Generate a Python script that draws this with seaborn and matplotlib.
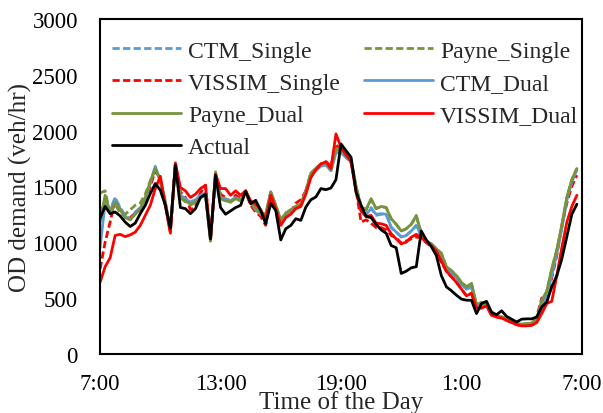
import numpy as np
import pandas as pd
import seaborn as sns
import matplotlib
matplotlib.use("Agg")
import matplotlib.pyplot as plt

# 15-min demand, 7:00 -> 6:45 next day (hours after 7:00)
hours = [i * 0.25 for i in range(96)]

actual = [1215, 1320, 1255, 1270, 1235, 1180, 1140, 1170, 1255, 1330, 1435, 1525,
          1465, 1330, 1125, 1690, 1310, 1300, 1255, 1300, 1400, 1430, 1030, 1600,
          1310, 1250, 1280, 1310, 1330, 1455, 1345, 1375, 1285, 1165, 1345, 1285,
          1020, 1120, 1150, 1210, 1195, 1315, 1380, 1405, 1480, 1470, 1485, 1560,
          1880, 1820, 1760, 1450, 1330, 1230, 1220, 1160, 1110, 1080, 970, 950,
          720, 740, 770, 780, 1100, 1020, 960, 880, 700, 600, 565, 525,
          490, 480, 480, 360, 450, 470, 370, 350, 385, 335, 310, 285,
          310, 313, 313, 330, 420, 463, 600, 700, 850, 1050, 1250, 1340]

ctm_single = [1250, 1380, 1290, 1400, 1310, 1240, 1210, 1270, 1310, 1400, 1530, 1670,
              1550, 1350, 1110, 1700, 1420, 1380, 1350, 1370, 1410, 1440, 1020, 1600,
              1400, 1380, 1370, 1400, 1370, 1450, 1350, 1290, 1250, 1230, 1440, 1320,
              1190, 1250, 1280, 1320, 1340, 1460, 1610, 1650, 1690, 1700, 1640, 1810,
              1810, 1760, 1720, 1490, 1270, 1250, 1310, 1240, 1250, 1250, 1130, 1090,
              1050, 1060, 1100, 1150, 1050, 1000, 970, 920, 880, 760, 720, 680,
              620, 580, 600, 420, 440, 440, 365, 340, 325, 315, 295, 270,
              260, 262, 268, 300, 420, 530, 720, 920, 1130, 1390, 1550, 1650]

payne_single = [1440, 1460, 1250, 1340, 1260, 1250, 1290, 1330, 1350, 1430, 1550, 1650,
                1560, 1360, 1100, 1690, 1400, 1360, 1330, 1360, 1400, 1420, 1010, 1620,
                1390, 1370, 1360, 1390, 1370, 1460, 1360, 1300, 1260, 1250, 1440, 1330,
                1200, 1260, 1290, 1320, 1340, 1460, 1620, 1660, 1700, 1710, 1650, 1830,
                1830, 1780, 1740, 1500, 1320, 1290, 1380, 1300, 1320, 1310, 1210, 1160,
                1100, 1120, 1160, 1230, 1080, 1010, 985, 940, 900, 780, 745, 700,
                640, 600, 630, 440, 460, 445, 375, 345, 330, 320, 300, 270,
                265, 270, 275, 310, 470, 560, 760, 930, 1150, 1400, 1560, 1660]

vissim_single = [760, 1000, 1180, 1380, 1290, 1230, 1220, 1260, 1290, 1380, 1500, 1640,
                 1560, 1330, 1090, 1700, 1450, 1400, 1290, 1320, 1440, 1510, 1030, 1600,
                 1430, 1400, 1360, 1420, 1390, 1450, 1330, 1270, 1230, 1150, 1400, 1290,
                 1170, 1240, 1270, 1350, 1380, 1460, 1580, 1660, 1700, 1720, 1680, 1880,
                 1810, 1770, 1720, 1470, 1180, 1200, 1170, 1130, 1130, 1110, 1060, 1040,
                 990, 1010, 1030, 1045, 1040, 995, 960, 910, 820, 740, 690, 640,
                 580, 520, 545, 410, 410, 430, 345, 330, 320, 300, 280, 262,
                 252, 252, 260, 330, 500, 470, 680, 880, 1150, 1350, 1500, 1600]

ctm_dual = [950, 1350, 1280, 1390, 1300, 1230, 1200, 1260, 1300, 1390, 1530, 1680,
            1540, 1340, 1110, 1700, 1420, 1390, 1360, 1380, 1420, 1440, 1020, 1610,
            1400, 1390, 1370, 1400, 1380, 1450, 1350, 1290, 1250, 1240, 1450, 1320,
            1190, 1250, 1280, 1310, 1330, 1450, 1600, 1640, 1680, 1690, 1640, 1800,
            1800, 1760, 1720, 1490, 1280, 1250, 1300, 1250, 1255, 1250, 1135, 1090,
            1045, 1060, 1100, 1150, 1060, 1000, 975, 925, 880, 760, 720, 680,
            620, 580, 600, 420, 440, 440, 370, 340, 325, 315, 295, 270,
            260, 262, 268, 300, 410, 520, 700, 900, 1120, 1380, 1540, 1650]

payne_dual = [1180, 1420, 1260, 1360, 1290, 1220, 1200, 1250, 1300, 1400, 1540, 1660,
              1560, 1360, 1100, 1690, 1400, 1370, 1340, 1360, 1400, 1420, 1010, 1630,
              1390, 1370, 1360, 1390, 1370, 1460, 1360, 1300, 1260, 1250, 1450, 1330,
              1200, 1260, 1290, 1320, 1340, 1460, 1620, 1660, 1700, 1710, 1650, 1840,
              1830, 1780, 1740, 1500, 1320, 1290, 1390, 1300, 1320, 1310, 1210, 1160,
              1100, 1120, 1160, 1240, 1080, 1010, 985, 940, 900, 780, 745, 700,
              640, 600, 630, 440, 460, 445, 375, 345, 330, 320, 300, 270,
              265, 270, 275, 310, 480, 560, 760, 930, 1150, 1400, 1560, 1660]

vissim_dual = [640, 780, 860, 1060, 1070, 1050, 1065, 1090, 1150, 1240, 1330, 1480,
               1590, 1330, 1080, 1710, 1490, 1460, 1400, 1430, 1480, 1510, 1030, 1610,
               1480, 1480, 1420, 1460, 1420, 1460, 1370, 1340, 1290, 1200, 1420, 1300,
               1150, 1220, 1250, 1300, 1320, 1430, 1580, 1650, 1700, 1720, 1660, 1970,
               1850, 1780, 1720, 1450, 1280, 1230, 1240, 1170, 1165, 1150, 1075, 1030,
               985, 1000, 1045, 1070, 1040, 1000, 970, 920, 830, 740, 690, 640,
               580, 520, 540, 410, 410, 430, 345, 330, 320, 300, 280, 260,
               250, 250, 255, 280, 360, 450, 470, 700, 950, 1180, 1320, 1420]

tick_pos = [0, 6, 12, 18, 24]
tick_labels = ["7:00", "13:00", "19:00", "1:00", "7:00"]

blue = "#5B9BD5"
green = "#77933C"
red = "#FF0000"
dash = (0, (2.6, 1.2))

series = [
    ("CTM_Single", ctm_single, blue, dash),
    ("Payne_Single", payne_single, green, dash),
    ("VISSIM_Single", vissim_single, red, dash),
    ("CTM_Dual", ctm_dual, blue, "-"),
    ("Payne_Dual", payne_dual, green, "-"),
    ("VISSIM_Dual", vissim_dual, red, "-"),
    ("Actual", actual, "black", "-"),
]

sns.set_style("white")
plt.rcParams["font.family"] = ["Liberation Serif", "DejaVu Serif"]

fig, ax = plt.subplots(figsize=(6.03, 4.14), dpi=100)
fig.subplots_adjust(left=0.166, right=0.965, top=0.952, bottom=0.143)

handles = {}
for name, vals, col, ls in series:
    df = pd.DataFrame({"t": hours, "v": vals})
    sns.lineplot(data=df, x="t", y="v", color=col, linewidth=2.0, ax=ax, label=name)
    line = ax.get_lines()[-1]
    line.set_linestyle(ls)
    handles[name] = line

ax.set_xlim(0, 24)
ax.set_ylim(0, 3000)
ax.set_yticks(range(0, 3001, 500))
ax.set_xticks(tick_pos)
ax.set_xticklabels(tick_labels)
ax.tick_params(axis="both", length=0, labelsize=16.5, colors="black")
ax.tick_params(axis="x", pad=14)
ax.tick_params(axis="y", pad=16)
for s in ax.spines.values():
    s.set_color("black")
    s.set_linewidth(1.5)

ax.set_xlabel("Time of the Day", fontsize=18, labelpad=-3)
ax.set_ylabel("OD demand (veh/hr)", fontsize=18, labelpad=0)

order = ["CTM_Single", "VISSIM_Single", "Payne_Dual", "Actual",
         "Payne_Single", "CTM_Dual", "VISSIM_Dual"]
ax.legend([handles[n] for n in order], order, ncol=2, frameon=False,
          loc="upper left", bbox_to_anchor=(0.006, 0.965), handlelength=2.9,
          labelspacing=0.45, columnspacing=1.0, handletextpad=0.3,
          fontsize=17, borderaxespad=0.0)

fig.savefig("out.png", dpi=100)
